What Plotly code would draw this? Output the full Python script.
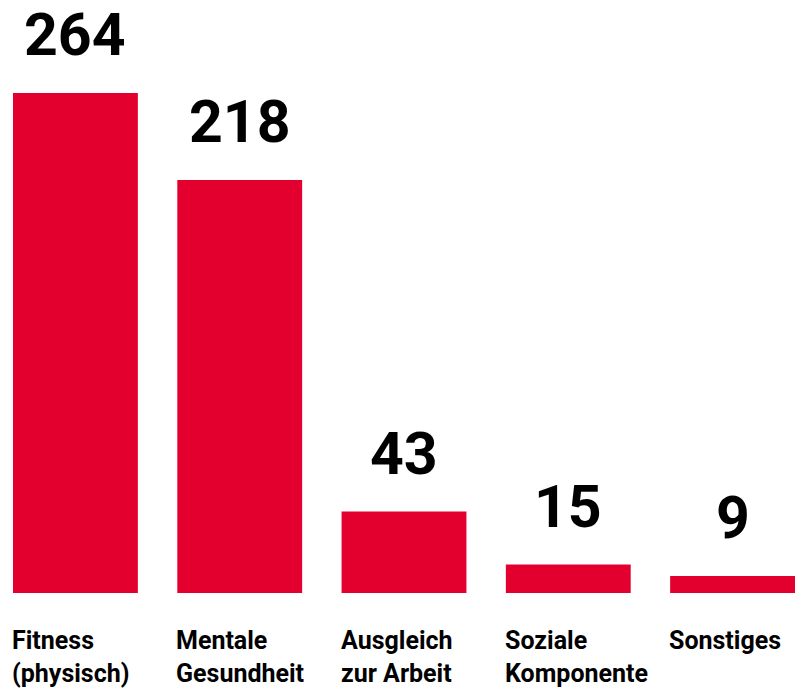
import plotly.graph_objects as go

categories = ["Fitness<br>(physisch)", "Mentale<br>Gesundheit", "Ausgleich<br>zur Arbeit", "Soziale<br>Komponente", "Sonstiges"]
values = [264, 218, 43, 15, 9]

RED = "#E4002E"
half = 0.38
xs = list(range(len(values)))

fig = go.Figure(go.Bar(x=xs, y=values, width=2 * half, marker=dict(color=RED, line=dict(width=0)),
                       hoverinfo="skip"))

ann = []
for i, v in enumerate(values):
    ann.append(dict(x=i, y=v, xref="x", yref="y", text=str(v), showarrow=False,
                    xanchor="center", yanchor="bottom", yshift=22,
                    font=dict(family="Roboto", size=59, color="#000000", weight="bold")))
    ann.append(dict(x=i - half, y=0, xref="x", yref="y", text=categories[i], showarrow=False,
                    xanchor="left", yanchor="top", align="left", yshift=-31, xshift=-3,
                    font=dict(family="Roboto", size=25, color="#000000", weight="bold")))

fig.update_layout(
    width=795, height=689,
    margin=dict(l=13, r=0, t=0, b=96),
    paper_bgcolor="white", plot_bgcolor="white",
    showlegend=False,
    xaxis=dict(range=[-half, len(values) - 1 + half], visible=False),
    yaxis=dict(range=[0, 593 * 264 / 500], visible=False),
    annotations=ann,
)
fig.write_html("out.html")
